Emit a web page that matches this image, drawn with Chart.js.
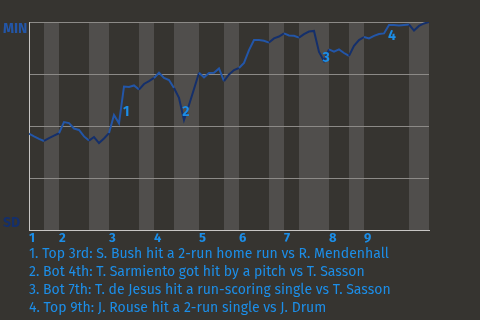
<!DOCTYPE html>
<html><head><meta charset="utf-8">
<script src="https://cdn.jsdelivr.net/npm/chart.js@4"></script>
<style>
html,body{margin:0;padding:0;background:#363430;width:480px;height:320px;overflow:hidden}
#wrap{position:relative;width:480px;height:320px}
canvas{position:absolute;left:0;top:0}
#notes{position:absolute;left:29px;top:245px;font-family:"Fira Sans","Open Sans",sans-serif;font-size:14px;line-height:18px;color:#1c8ee8;white-space:nowrap}
</style></head>
<body><div id="wrap"><canvas id="c" width="480" height="320"></canvas><div id="notes"></div></div>
<script>
// Win probability (0 = SD, 100 = MIN) after each play
const winProb = [46.3,45.0,43.8,42.8,44.2,45.4,46.5,51.9,51.4,48.8,48.1,45.0,43.0,44.7,41.8,44.0,46.6,55.3,51.3,69.0,
  68.8,69.5,67.5,70.2,71.6,73.1,75.6,73.1,72.1,68.3,63.5,52.9,60.1,67.8,75.6,73.4,75.5,75.6,77.7,71.6,
  74.8,76.9,77.9,80.3,86.5,91.3,91.3,91.0,90.1,92.1,93.0,94.5,93.5,93.4,92.5,94.2,95.4,95.7,85.6,81.3,
  86.8,85.7,86.8,85.1,83.7,88.5,91.3,92.8,92.1,93.3,94.2,94.5,98.6,98.6,98.3,98.6,98.8,95.9,98.1,99.3,100];
const totalPlays = 80;
// play index where each half-inning starts (top 1, bot 1, top 2, ...)
const halfInningStarts = [0,3,6,12,16,22,25,29,34,39,42,48,51,54,60,64,67,76];
const inningStarts = [0,6,16,25,34,42,51,60,67];
const inningLabels = ['1','2','3','4','5','6','7','8','9'];
const topTeam = 'MIN';
const bottomTeam = 'SD';
const eventLabels = ['1','2','3','4'];
const eventX = [19.45,31.35,59.45,72.6];
const eventY = [56.5,56.5,82.5,93.0];
const eventNotes = [
  '1. Top 3rd: S. Bush hit a 2-run home run vs R. Mendenhall',
  '2. Bot 4th: T. Sarmiento got hit by a pitch vs T. Sasson',
  '3. Bot 7th: T. de Jesus hit a run-scoring single vs T. Sasson',
  '4. Top 9th: J. Rouse hit a 2-run single vs J. Drum'
];

const BLUE = '#2356a8', NAVY = '#142f6b', ACCENT = '#1c8ee8';
const FONT = '"Fira Sans","Open Sans",sans-serif';

document.getElementById('notes').innerHTML = eventNotes.map(t => '<div>' + t + '</div>').join('');

function halfIndex(i) {
  let h = 0;
  for (let k = 0; k < halfInningStarts.length; k++) if (i >= halfInningStarts[k]) h = k;
  return h;
}

const stripes = {
  id: 'stripes',
  beforeDraw(chart) {
    const { ctx, chartArea, scales: { x } } = chart;
    ctx.save();
    ctx.fillStyle = '#504e4c';
    for (let k = 1; k < halfInningStarts.length; k += 2) {
      const x0 = x.getPixelForValue(halfInningStarts[k]);
      const x1 = x.getPixelForValue(k + 1 < halfInningStarts.length ? halfInningStarts[k + 1] : totalPlays);
      ctx.fillRect(x0, chartArea.top, x1 - x0, chartArea.bottom - chartArea.top);
    }
    ctx.restore();
  }
};

const events = {
  id: 'events',
  afterDatasetsDraw(chart) {
    const { ctx, scales: { x, y } } = chart;
    ctx.save();
    ctx.fillStyle = ACCENT;
    ctx.font = 'bold 14px ' + FONT;
    ctx.textAlign = 'center';
    ctx.textBaseline = 'middle';
    eventLabels.forEach((t, i) => ctx.fillText(t, x.getPixelForValue(eventX[i]), y.getPixelForValue(eventY[i])));
    ctx.restore();
  }
};

new Chart(document.getElementById('c'), {
  type: 'line',
  data: {
    datasets: [{
      data: winProb.map((v, i) => ({ x: i, y: v })),
      borderWidth: 2,
      pointRadius: 0,
      tension: 0,
      borderColor: BLUE,
      segment: { borderColor: c => halfIndex(c.p0DataIndex) % 2 === 0 ? BLUE : NAVY }
    }]
  },
  options: {
    responsive: false,
    animation: false,
    layout: { padding: { left: 3, top: 22, right: 51, bottom: 72 } },
    plugins: { legend: { display: false }, tooltip: { enabled: false } },
    scales: {
      x: {
        type: 'linear', min: 0, max: totalPlays,
        afterFit(s) { s.height = 18; },
        afterBuildTicks(s) { s.ticks = inningStarts.map(v => ({ value: v })); },
        grid: { display: false, drawTicks: false },
        border: { display: true, color: '#c8c6c4', width: 1 },
        ticks: {
          autoSkip: false, maxRotation: 0, align: 'start', padding: 1,
          color: ACCENT, font: { family: FONT, size: 13, weight: 'bold' },
          callback: (v) => inningLabels[inningStarts.indexOf(v)]
        }
      },
      y: {
        min: 0, max: 100,
        afterFit(s) { s.width = 26; },
        grid: { color: '#8c8a87', drawTicks: false },
        border: { display: true, color: '#c8c6c4', width: 1 },
        ticks: {
          stepSize: 25, autoSkip: false, crossAlign: 'far', padding: 0,
          font: { family: FONT, size: 14, weight: 'bold', lineHeight: 1.0 },
          color: c => c.tick && c.tick.value === 100 ? BLUE : NAVY,
          callback: v => v === 100 ? ['', topTeam] : (v === 0 ? [bottomTeam, ''] : '')
        }
      }
    }
  },
  plugins: [stripes, events]
});
</script>
</body></html>
